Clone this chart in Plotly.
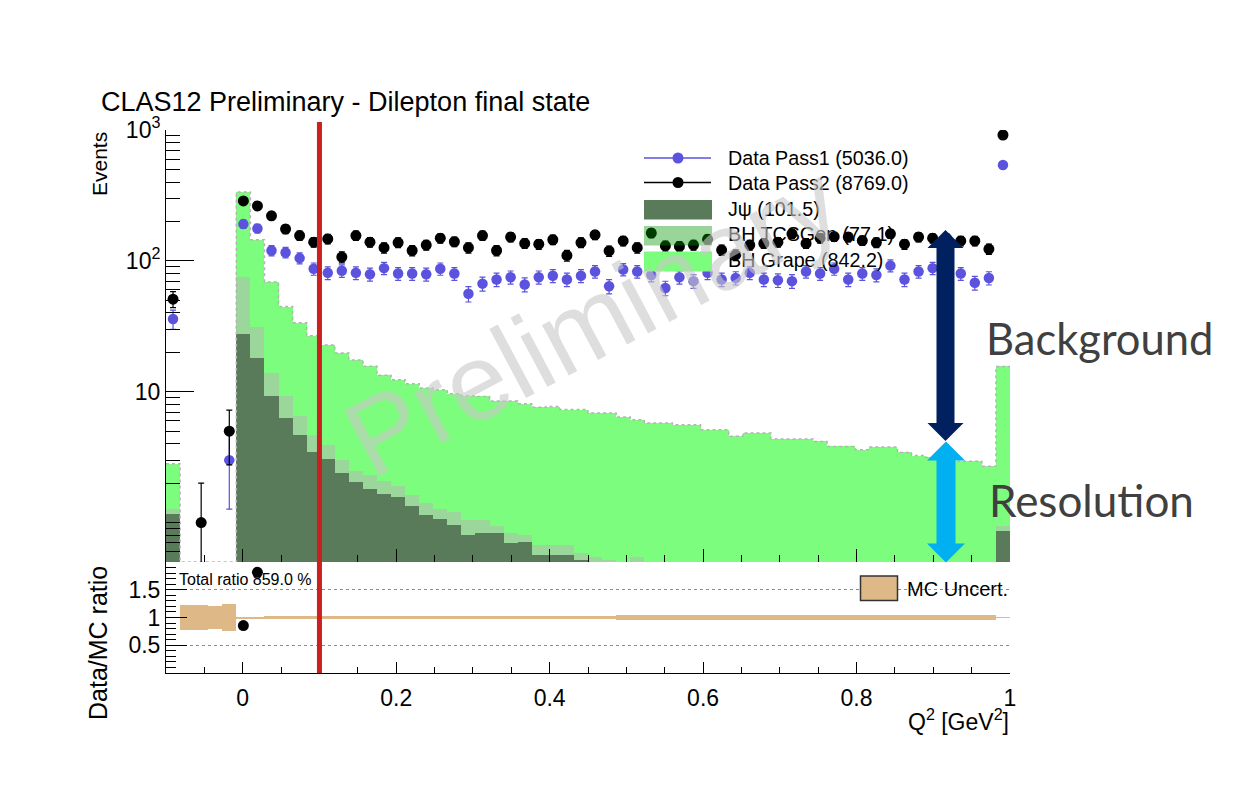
import math
import numpy as np
import plotly.graph_objects as go

# ---------------- data ----------------
x_min, x_max, n_bins = -0.1, 1.0, 60

jpsi = [1.17, 0, 0, 0, 0, 27.7, 18.2, 9.3, 6.3, 4.7,
        3.44, 3.06, 2.4, 2.05, 1.82, 1.66, 1.57, 1.33, 1.15, 1.07,
        0.96, 0.81, 0.83, 0.83, 0.70, 0.71, 0.57, 0.57, 0.57, 0.52,
        0.45, 0.40, 0.35, 0.30, 0.30, 0.28, 0.26, 0.25, 0.24, 0.22,
        0.21, 0.20, 0.20, 0.19, 0.18, 0.18, 0.17, 0.16, 0.16, 0.15,
        0.15, 0.14, 0.14, 0.13, 0.13, 0.12, 0.12, 0.11, 0.11, 0.86]

bh_tcsgen = [0.11, 0, 0, 0, 0, 47.3, 13.3, 4.7, 2.9, 1.8,
             1.2, 0.84, 0.6, 0.45, 0.48, 0.41, 0.32, 0.29, 0.26, 0.19,
             0.24, 0.23, 0.21, 0.12, 0.13, 0.10, 0.10, 0.10, 0.10, 0.07,
             0.10, 0.12, 0.10, 0.25, 0.03, 0.03, 0.03, 0.03, 0.03, 0.03,
             0.03, 0.03, 0.03, 0.03, 0.03, 0.03, 0.03, 0.03, 0.03, 0.03,
             0.03, 0.03, 0.03, 0.03, 0.03, 0.03, 0.03, 0.03, 0.03, 0.08]

bh_grape = [1.54, 0, 0, 0, 0, 261.0, 113.5, 55.0, 35.6, 27.1,
            22.1, 18.9, 16.8, 15.0, 13.35, 11.3, 10.46, 9.88, 9.29, 9.09,
            8.45, 8.26, 8.16, 7.55, 7.67, 7.29, 6.93, 7.03, 6.63, 6.71,
            6.32, 6.35, 5.95, 5.55, 5.44, 5.46, 5.31, 5.32, 4.86, 4.88,
            4.32, 4.60, 4.60, 4.13, 4.14, 4.14, 3.97, 3.63, 3.63, 3.43,
            3.60, 3.61, 3.27, 3.09, 2.99, 2.97, 2.79, 2.80, 2.55, 14.66]

data_pass1 = [36, 0, 0, 0, 3, 191, 177, 120, 116, 105,
              87, 81, 84, 81, 79, 88, 80, 80, 79, 87,
              80, 56, 67, 72, 75, 66, 75, 77, 72, 77,
              83, 64, 86, 83, 78, 62, 75, 70, 81, 72,
              74, 81, 72, 71, 70, 83, 80, 87, 72, 80,
              78, 92, 72, 83, 88, 90, 80, 68, 74, 541]

data_pass2 = [51, 0, 1, 0, 5, 287, 263, 221, 175, 156,
              139, 147, 107, 156, 139, 126, 138, 120, 132, 149,
              140, 126, 156, 120, 152, 136, 134, 145, 110, 138,
              158, 119, 142, 126, 163, 130, 129, 132, 146, 121,
              111, 132, 136, 139, 161, 136, 149, 153, 152, 143,
              138, 161, 134, 152, 149, 148, 142, 142, 123, 916]

mc_rel_unc = [0, 0.22, 0.22, 0.20, 0.235, 0.012, 0.012, 0.02, 0.02, 0.03,
              0.03, 0.03, 0.03, 0.03, 0.03, 0.03, 0.03, 0.03, 0.03, 0.03,
              0.03, 0.03, 0.03, 0.03, 0.03, 0.03, 0.03, 0.03, 0.03, 0.03,
              0.03, 0.03, 0.05, 0.05, 0.05, 0.05, 0.05, 0.05, 0.05, 0.05,
              0.05, 0.05, 0.05, 0.05, 0.05, 0.05, 0.05, 0.05, 0.05, 0.05,
              0.05, 0.05, 0.05, 0.05, 0.05, 0.05, 0.05, 0.05, 0.05, 0.008]

legend_labels = ["Data Pass1 (5036.0)", "Data Pass2 (8769.0)", "Jψ (101.5)",
                 "BH TCSGen (77.1)", "BH Grape (842.2)"]
total_ratio_label = "Total ratio 859.0 %"
cut_q2 = 0.1

# ---------------- geometry ----------------
# the page body has an 8px margin; positions below are page pixels
OFF = 8
W, H = 1237, 786
L, T = 166 - OFF, 130 - OFF
PW, PH = 844, 543
R, B = W - L - PW, H - T - PH
y_floor = 0.5


def px(xp):
    return (xp - OFF - L) / PW


def py(yp):
    return (T + PH - (yp - OFF)) / PH


split = py(562)

bw = (x_max - x_min) / n_bins
centers = x_min + bw * (np.arange(n_bins) + 0.5)
edges = x_min + bw * np.arange(n_bins + 1)

FONT = "Liberation Sans, Arial, Helvetica, sans-serif"
BLUE = "#5b52dd"
C_JPSI = "#5a7b5a"
C_TCS = "#9bd69b"
C_GRAPE = "#7dfd7d"
C_UNC = "#deb887"

fig = go.Figure()

# stacked MC histograms
for vals, col, name in [(jpsi, C_JPSI, "Jψ"), (bh_tcsgen, C_TCS, "BH TCSGen"),
                        (bh_grape, C_GRAPE, "BH Grape")]:
    fig.add_trace(go.Bar(x=centers, y=vals, width=bw, name=name,
                         marker=dict(color=col, line=dict(width=0)),
                         xaxis="x", yaxis="y", showlegend=False))

mc_total = [a + b + c for a, b, c in zip(jpsi, bh_tcsgen, bh_grape)]
outline = [v if v > 0 else y_floor for v in mc_total]
fig.add_trace(go.Scatter(x=edges, y=outline + [outline[-1]], mode="lines",
                         line=dict(shape="hv", color="#b4b4b4", width=1.5, dash="dot"),
                         xaxis="x", yaxis="y", showlegend=False, hoverinfo="skip"))


def pts(vals):
    y = [v if v > 0 else None for v in vals]
    e = [math.sqrt(v) if v > 0 else 0 for v in vals]
    return y, e


y1, e1 = pts(data_pass1)
fig.add_trace(go.Scatter(x=centers, y=y1, mode="markers", name="Data Pass1",
                         marker=dict(color=BLUE, size=10.5),
                         error_y=dict(type="data", array=e1, color=BLUE, thickness=1.2, width=3),
                         xaxis="x", yaxis="y", showlegend=False))
y2, e2 = pts(data_pass2)
fig.add_trace(go.Scatter(x=centers, y=y2, mode="markers", name="Data Pass2",
                         marker=dict(color="black", size=11),
                         error_y=dict(type="data", array=e2, color="black", thickness=1.2, width=3),
                         xaxis="x", yaxis="y", showlegend=False))

# ratio pad
unc_h = [2 * u if u > 0 else None for u in mc_rel_unc]
unc_b = [1 - u for u in mc_rel_unc]
fig.add_trace(go.Bar(x=centers, y=unc_h, base=unc_b, width=bw, name="MC Uncert.",
                     marker=dict(color=C_UNC, line=dict(width=0)),
                     xaxis="x2", yaxis="y2", showlegend=False))
ratio = [d / m if m > 0 else None for d, m in zip(data_pass2, mc_total)]
fig.add_trace(go.Scatter(x=centers, y=ratio, mode="markers",
                         marker=dict(color="black", size=11),
                         xaxis="x2", yaxis="y2", showlegend=False))

# ---------------- axes ----------------
minor_log = [v * d for d in (0.1, 1, 10, 100) for v in range(2, 10) if v * d >= 0.5]
minor_log = [m for m in minor_log if m <= 1000] + [1]

fig.update_layout(
    width=W, height=H, margin=dict(l=L, r=R, t=T, b=B, autoexpand=False),
    paper_bgcolor="white", plot_bgcolor="white",
    barmode="stack", bargap=0, showlegend=False,
    font=dict(family=FONT, color="black"),
    xaxis=dict(domain=[0, 1], range=[x_min, x_max], anchor="y", automargin=False,
               showticklabels=False, ticks="inside", tick0=0, dtick=0.2,
               ticklen=13, tickcolor="black", showline=False, showgrid=False,
               zeroline=False,
               minor=dict(ticks="inside", tick0=0, dtick=0.05, ticklen=7,
                          tickcolor="black", showgrid=False)),
    xaxis2=dict(domain=[0, 1], range=[x_min, x_max], anchor="y2", matches="x",
                automargin=False,
                ticks="inside", tick0=0, dtick=0.2, ticklen=11, tickcolor="black",
                showline=True, linecolor="black", linewidth=1, showgrid=False,
                zeroline=False, tickfont=dict(size=23), ticklabelstandoff=4,
                minor=dict(ticks="inside", tick0=0, dtick=0.05, ticklen=6,
                           tickcolor="black", showgrid=False)),
    yaxis=dict(domain=[split, 1], type="log", range=[math.log10(y_floor), 3],
               anchor="x", automargin=False, tickmode="array", tickvals=[10, 100, 1000],
               ticktext=["10", "10<sup>2</sup>", "10<sup>3</sup>"],
               ticks="inside", ticklen=28, tickcolor="black",
               showline=True, linecolor="black", linewidth=1, showgrid=False,
               zeroline=False, tickfont=dict(size=23),
               minor=dict(ticks="inside", tickmode="array", tickvals=minor_log,
                          ticklen=14, tickcolor="black", showgrid=False)),
    yaxis2=dict(domain=[0, split], range=[0, 2], anchor="x2", automargin=False,
                tickmode="array",
                tickvals=[0.5, 1, 1.5, 2], ticktext=["0.5", "1", "1.5", ""],
                ticks="inside", ticklen=21, tickcolor="black",
                showline=True, linecolor="black", linewidth=1,
                showgrid=True, gridcolor="#8c8c8c", griddash="3px,3px", gridwidth=1,
                zeroline=False, tickfont=dict(size=23),
                minor=dict(ticks="inside", dtick=0.1, tick0=0, ticklen=10,
                           tickcolor="black", showgrid=False)),
)

shapes = []
ann = []

# red cut line
shapes.append(dict(type="line", xref="x", yref="paper", x0=cut_q2, x1=cut_q2,
                   y0=py(673), y1=py(122), line=dict(color="#cc1f1f", width=5),
                   layer="above"))

# legend (ROOT style)
leg_x0, leg_x1, leg_tx = 644, 711, 726
rows_y = [158, 182.5, 208.5, 234, 260]
for yy, col in zip(rows_y[:2], [BLUE, "black"]):
    shapes.append(dict(type="line", xref="paper", yref="paper", x0=px(leg_x0), x1=px(leg_x1),
                       y0=py(yy), y1=py(yy), line=dict(color=col, width=1.5)))
    r = 5.5
    shapes.append(dict(type="circle", xref="paper", yref="paper", x0=px(678 - r), x1=px(678 + r),
                       y0=py(yy + r), y1=py(yy - r), fillcolor=col, line=dict(width=0)))
box_cols = [C_JPSI, "rgba(0,150,0,0.4)", C_GRAPE]
box_y = [(200, 219.5), (226, 245.5), (251.5, 271.5)]
for col, (ya, yb) in zip(box_cols, box_y):
    shapes.append(dict(type="rect", xref="paper", yref="paper", x0=px(leg_x0), x1=px(leg_x1 + 1),
                       y0=py(yb), y1=py(ya), fillcolor=col, line=dict(width=0)))
for lab, yy in zip(legend_labels, rows_y):
    ann.append(dict(text=lab, xref="paper", yref="paper", x=px(leg_tx), y=py(yy),
                    xanchor="left", yanchor="middle", showarrow=False,
                    font=dict(size=19.7, family=FONT, color="black")))

# MC uncert legend
shapes.append(dict(type="rect", xref="paper", yref="paper", x0=px(860.5), x1=px(897.5),
                   y0=py(600.5), y1=py(576), fillcolor=C_UNC, line=dict(color="#333333", width=1.5)))
ann.append(dict(text="MC Uncert.", xref="paper", yref="paper", x=px(905), y=py(589),
                xanchor="left", yanchor="middle", showarrow=False, font=dict(size=20, family=FONT)))
ann.append(dict(text=total_ratio_label, xref="paper", yref="paper", x=px(177), y=py(579),
                xanchor="left", yanchor="middle", showarrow=False, font=dict(size=16, family=FONT)))


# arrows
def dbl_arrow(cx, y_top, y_bot, head_len, head_hw, shaft_hw):
    pts_ = [(cx, y_top), (cx + head_hw, y_top + head_len), (cx + shaft_hw, y_top + head_len),
            (cx + shaft_hw, y_bot - head_len), (cx + head_hw, y_bot - head_len), (cx, y_bot),
            (cx - head_hw, y_bot - head_len), (cx - shaft_hw, y_bot - head_len),
            (cx - shaft_hw, y_top + head_len), (cx - head_hw, y_top + head_len)]
    return "M " + " L ".join(f"{px(a):.5f},{py(b):.5f}" for a, b in pts_) + " Z"


shapes.append(dict(type="path", xref="paper", yref="paper",
                   path=dbl_arrow(945.5, 230, 441, 18, 18, 9),
                   fillcolor="#002060", line=dict(width=0), layer="above"))
shapes.append(dict(type="path", xref="paper", yref="paper",
                   path=dbl_arrow(946, 441.5, 562.5, 19, 19, 9.5),
                   fillcolor="#00b0f0", line=dict(width=0), layer="above"))
ann.append(dict(text="Background", xref="paper", yref="paper", x=px(984), y=py(338),
                xanchor="left", yanchor="middle", showarrow=False,
                font=dict(size=43.5, family="Lato, Open Sans, sans-serif", color="#404040")))
ann.append(dict(text="Resolution", xref="paper", yref="paper", x=px(987), y=py(500),
                xanchor="left", yanchor="middle", showarrow=False,
                font=dict(size=44, family="Lato, Open Sans, sans-serif", color="#404040")))

# titles
ann.append(dict(text="CLAS12 Preliminary - Dilepton final state", xref="paper", yref="paper",
                x=px(99), y=py(102), xanchor="left", yanchor="middle", showarrow=False,
                font=dict(size=27, family=FONT)))
ann.append(dict(text="Events", xref="paper", yref="paper", x=px(99), y=py(130),
                xanchor="center", yanchor="top", textangle=-90, showarrow=False,
                font=dict(size=21, family=FONT)))
ann.append(dict(text="Data/MC ratio", xref="paper", yref="paper", x=px(98), y=py(643),
                xanchor="center", yanchor="middle", textangle=-90, showarrow=False,
                font=dict(size=25, family=FONT)))
ann.append(dict(text="Q<sup>2</sup> [GeV<sup>2</sup>]", xref="paper", yref="paper",
                x=px(1011), y=py(720), xanchor="right", yanchor="middle", showarrow=False,
                font=dict(size=23, family=FONT)))

# watermark
ann.append(dict(text="Preliminary", xref="paper", yref="paper", x=px(592), y=py(320),
                xanchor="center", yanchor="middle", textangle=-28, showarrow=False,
                font=dict(size=108, family=FONT, color="rgba(200,200,200,0.6)")))

fig.update_layout(shapes=shapes, annotations=ann)
fig.write_html("out.html")
